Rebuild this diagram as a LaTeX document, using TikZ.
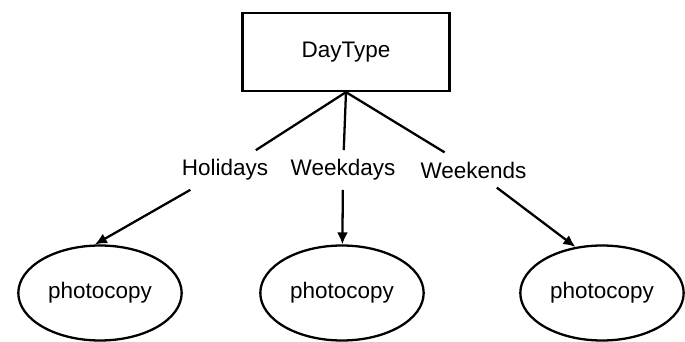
\documentclass[tikz,border=0pt]{standalone}
\usepackage{fontspec}
\setmainfont{Liberation Sans}
\usepackage{tikz}
\usetikzlibrary{arrows.meta,positioning,shapes.geometric}

\begin{document}
\begin{tikzpicture}[
  attr/.style={draw,line width=1.3pt,minimum width=4.14cm,minimum height=1.56cm,
    font=\fontsize{12.8}{15}\selectfont},
  branch/.style={inner sep=0.18cm,font=\fontsize{12.8}{15}\selectfont},
  leaf/.style={ellipse,draw,line width=1.3pt,minimum width=3.2cm,minimum height=1.9cm,
    font=\fontsize{12.8}{15}\selectfont},
  edge/.style={line width=1.3pt},
  arrow/.style={-{Latex[length=2.4mm,width=2.2mm]},line width=1.3pt}
]
\useasboundingbox (-6.92,1.04) rectangle (6.78,-5.8);
% root attribute
\node[attr] (daytype) at (0,0) {DayType};
% branch values
\node[branch] (holidays) at (-2.42,-2.36) {Holidays};
\node[branch] (weekdays) at (-0.06,-2.36) {Weekdays};
\node[branch] (weekends) at (2.55,-2.36) {Weekends};
% leaves
\node[leaf] (copyH) at (-4.92,-4.82) {photocopy};
\node[leaf] (copyD) at (-0.08,-4.82) {photocopy};
\node[leaf] (copyE) at (5.12,-4.82) {photocopy};
\draw[edge] (daytype.south) -- (holidays);
\draw[edge] (daytype.south) -- (weekdays);
\draw[edge] (daytype.south) -- (weekends);
\draw[arrow] (holidays) -- (copyH.96);
\draw[arrow] (weekdays) -- (copyD);
\draw[arrow] (weekends) -- (copyE.120);
\end{tikzpicture}
\end{document}
